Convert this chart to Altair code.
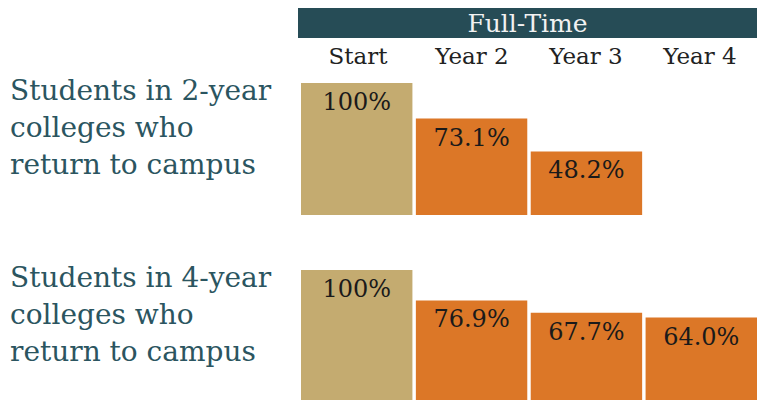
import altair as alt
import pandas as pd

columns = ["Start", "Year 2", "Year 3", "Year 4"]
two_year_values = [100, 73.1, 48.2]
two_year_labels = ["100%", "73.1%", "48.2%"]
four_year_values = [100, 76.9, 67.7, 64.0]
four_year_labels = ["100%", "76.9%", "67.7%", "64.0%"]
row_titles = [
    "Students in 2-year\ncolleges who\nreturn to campus",
    "Students in 4-year\ncolleges who\nreturn to campus",
]
header_title = "Full-Time"

TAN = "#c4ab70"
ORANGE = "#dc7727"
TEAL = "#264c56"
TEXT_TEAL = "#2b5560"
FONT = "DejaVu Serif"
W = 749
ROW_H = 132

xscale = alt.Scale(domain=columns, range=[293, 749], paddingInner=0.03, paddingOuter=0)


def row_df(values, labels):
    return pd.DataFrame({
        "col": columns[: len(values)],
        "value": values,
        "label": labels,
        "kind": ["start"] + ["year"] * (len(values) - 1),
    })


def row_chart(values, labels, title):
    df = row_df(values, labels)
    base = alt.Chart(df).encode(
        x=alt.X("col:N", scale=xscale, axis=None, sort=columns),
        y=alt.Y("value:Q", scale=alt.Scale(domain=[0, 100]), axis=None),
    )
    bars = base.mark_bar().encode(
        color=alt.Color("kind:N", scale=alt.Scale(domain=["start", "year"], range=[TAN, ORANGE]), legend=None)
    )
    txt = base.mark_text(font=FONT, fontSize=24, baseline="alphabetic", dy=27, color="#1a1a1a").encode(
        text="label:N"
    )
    lab = alt.Chart(pd.DataFrame({"t": [title]})).mark_text(
        font=FONT, fontSize=28, align="left", baseline="alphabetic",
        lineBreak="\n", lineHeight=37, color=TEXT_TEAL
    ).encode(x=alt.value(2), y=alt.value(17), text="t:N")
    return alt.layer(bars, txt, lab).properties(width=W, height=ROW_H)


hdr_df = pd.DataFrame({"col": columns})
band = alt.Chart(pd.DataFrame({"t": [header_title]})).mark_rect(color=TEAL).encode(
    x=alt.value(290), x2=alt.value(W), y=alt.value(0), y2=alt.value(30)
)
band_text = alt.Chart(pd.DataFrame({"t": [header_title]})).mark_text(
    font=FONT, fontSize=25, color="#f2f2f2", baseline="alphabetic"
).encode(x=alt.value((290 + W) / 2), y=alt.value(24), text="t:N")
col_text = alt.Chart(hdr_df).mark_text(
    font=FONT, fontSize=23, color="#222222", baseline="alphabetic"
).encode(
    x=alt.X("col:N", scale=xscale, axis=None, sort=columns),
    y=alt.value(56),
    text="col:N",
)
header = alt.layer(band, band_text, col_text).properties(width=W, height=70)

rows = alt.vconcat(
    row_chart(two_year_values, two_year_labels, row_titles[0]),
    row_chart(four_year_values, four_year_labels, row_titles[1]),
    spacing=50,
)

chart = alt.vconcat(header, rows, spacing=0).properties(
    padding=0
).configure_view(stroke=None).configure_concat(spacing=0)

chart.save("out.html", embed_options={"renderer": "svg", "actions": False})
